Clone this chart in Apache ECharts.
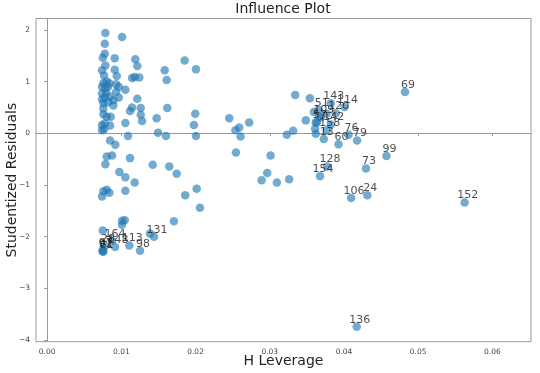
<!DOCTYPE html>
<html><head><meta charset="utf-8">
<script src="https://cdn.jsdelivr.net/npm/echarts@6/dist/echarts.min.js"></script>
<style>html,body{margin:0;padding:0;background:#fff}#c{width:540px;height:373px}</style>
</head><body><div id="c"></div>
<script>
// Unlabeled observations
const leverage = [0.00785,0.01009,0.00777,0.00777,0.00750,0.00911,0.01188,0.01853,0.00785,0.01215,
0.00740,0.00911,0.01584,0.02005,0.00767,0.00938,0.01144,0.01180,0.01242,0.01611,
0.00758,0.00803,0.00838,0.00929,0.00740,0.00785,0.00821,0.00965,0.01054,0.00740,
0.00794,0.00848,0.00929,0.00740,0.00777,0.00892,0.00965,0.01215,0.00758,0.00821,
0.00892,0.01144,0.01261,0.01619,0.00758,0.01117,0.01261,0.01279,0.00758,0.00803,
0.00857,0.01476,0.01996,0.02454,0.01054,0.00740,0.00777,0.00848,0.01978,0.02537,
0.02588,0.02607,0.00740,0.00767,0.01494,0.01090,0.01602,0.02005,0.00848,0.00919,
0.02544,0.00803,0.00875,0.01117,0.00785,0.01423,0.01646,0.00973,0.01054,0.01746,
0.01180,0.00758,0.00803,0.00838,0.00740,0.01054,0.02015,0.01861,0.02059,0.01009,
0.01046,0.01009,0.01709,0.00750,0.01386,
0.02723,0.03011,0.03315,0.03230,0.03486,0.02965,0.02890,0.03096,0.03261,0.03342,
0.03540,0.03594,0.03620,0.03611,0.03620,0.03665,0.03765];
const residuals = [1.94,1.86,1.73,1.54,1.46,1.45,1.43,1.41,1.31,1.30,
1.22,1.23,1.22,1.24,1.12,1.11,1.07,1.09,1.08,1.03,
0.97,1.00,0.97,0.95,0.90,0.87,0.90,0.90,0.84,0.77,
0.78,0.71,0.80,0.66,0.69,0.64,0.69,0.67,0.58,0.60,
0.54,0.50,0.49,0.49,0.48,0.43,0.36,0.24,0.37,0.32,
0.32,0.29,0.38,0.29,0.20,0.16,0.19,0.15,0.16,0.06,
0.11,-0.06,0.06,0.08,0.01,-0.05,-0.05,-0.05,-0.14,-0.22,
-0.37,-0.45,-0.43,-0.48,-0.60,-0.61,-0.64,-0.75,-0.85,-0.78,
-0.95,-1.12,-1.09,-1.15,-1.22,-1.11,-1.07,-1.20,-1.44,-1.69,
-1.68,-1.77,-1.70,-1.88,-1.94,
0.21,-0.43,0.05,-0.03,0.25,-0.77,-0.91,-0.95,-0.89,0.74,
0.68,0.41,0.21,0.09,-0.01,0.32,0.38];
// Labeled (influential) observations
const obsLabels = ["143","51","114","120","109","57","142","158","13","76","79","60","128","154","73","99","106","24","69","152","136","131","164","28","148","113","98","87","61","91"];
const obsLeverage = [0.03822,0.03661,0.04007,0.03890,0.03688,0.03634,0.03822,0.03769,0.03728,0.04061,0.04176,0.03926,0.03772,0.03678,0.04297,0.04572,0.04096,0.04314,0.04822,0.05626,0.04172,0.01440,0.00875,0.00781,0.00915,0.01108,0.01252,0.00750,0.00758,0.00747];
const obsResidual = [0.58,0.45,0.51,0.39,0.31,0.21,0.17,0.06,-0.11,-0.03,-0.14,-0.21,-0.64,-0.83,-0.68,-0.44,-1.25,-1.20,0.80,-1.34,-3.74,-2.00,-2.08,-2.18,-2.20,-2.17,-2.27,-2.26,-2.29,-2.28];
const xTicks = [0,0.01,0.02,0.03,0.04,0.05,0.06];
const yTicks = [-4,-3,-2,-1,0,1,2];

const chart = echarts.init(document.getElementById('c'), null, {renderer:'canvas'});
const FONT = 'DejaVu Sans';
const ptColor = 'rgba(31,119,180,0.78)';
chart.setOption({
  animation:false,
  title:{text:'Influence Plot',left:283,top:2,padding:0,textAlign:'center',
    textStyle:{fontFamily:FONT,fontSize:14,fontWeight:'normal',color:'#222'}},
  grid:{left:36,right:9,top:18.5,bottom:31.3,show:true,borderColor:'#999',borderWidth:1,
    containLabel:false,outerBoundsMode:'none'},
  xAxis:{type:'value',min:-0.0015,max:0.0652,
    name:'H Leverage',nameLocation:'middle',nameGap:13,nameMoveOverlap:false,
    nameTextStyle:{fontFamily:FONT,fontSize:14,color:'#222'},
    axisLine:{show:true,lineStyle:{color:'#999'}},
    axisTick:{show:true,length:3,lineStyle:{color:'#999'},customValues:xTicks},
    axisLabel:{customValues:xTicks,fontFamily:FONT,fontSize:7.5,color:'#444',margin:6,
      formatter:v=>v.toFixed(2)},
    splitLine:{show:false}},
  yAxis:{type:'value',min:-4.03,max:2.22,
    name:'Studentized Residuals',nameLocation:'middle',nameGap:17,nameMoveOverlap:false,
    nameTextStyle:{fontFamily:FONT,fontSize:14,color:'#222'},
    axisLine:{show:true,lineStyle:{color:'#999'}},
    axisTick:{show:true,length:3,lineStyle:{color:'#999'},customValues:yTicks},
    axisLabel:{customValues:yTicks,fontFamily:FONT,fontSize:7.5,color:'#444',margin:6,
      formatter:v=>String(v).replace('-','\u2212')},
    splitLine:{show:false}},
  series:[
    {type:'scatter',symbolSize:8.5,itemStyle:{color:ptColor},
     data:leverage.map((x,i)=>[x,residuals[i]])},
    {type:'scatter',symbolSize:8.5,itemStyle:{color:ptColor},
     data:obsLeverage.map((x,i)=>({value:[x,obsResidual[i]],name:obsLabels[i]})),
     label:{show:true,position:'inside',offset:[3,-7],formatter:p=>p.name,
       fontFamily:FONT,fontSize:11,color:'#222'}}
  ]
});
</script></body></html>
